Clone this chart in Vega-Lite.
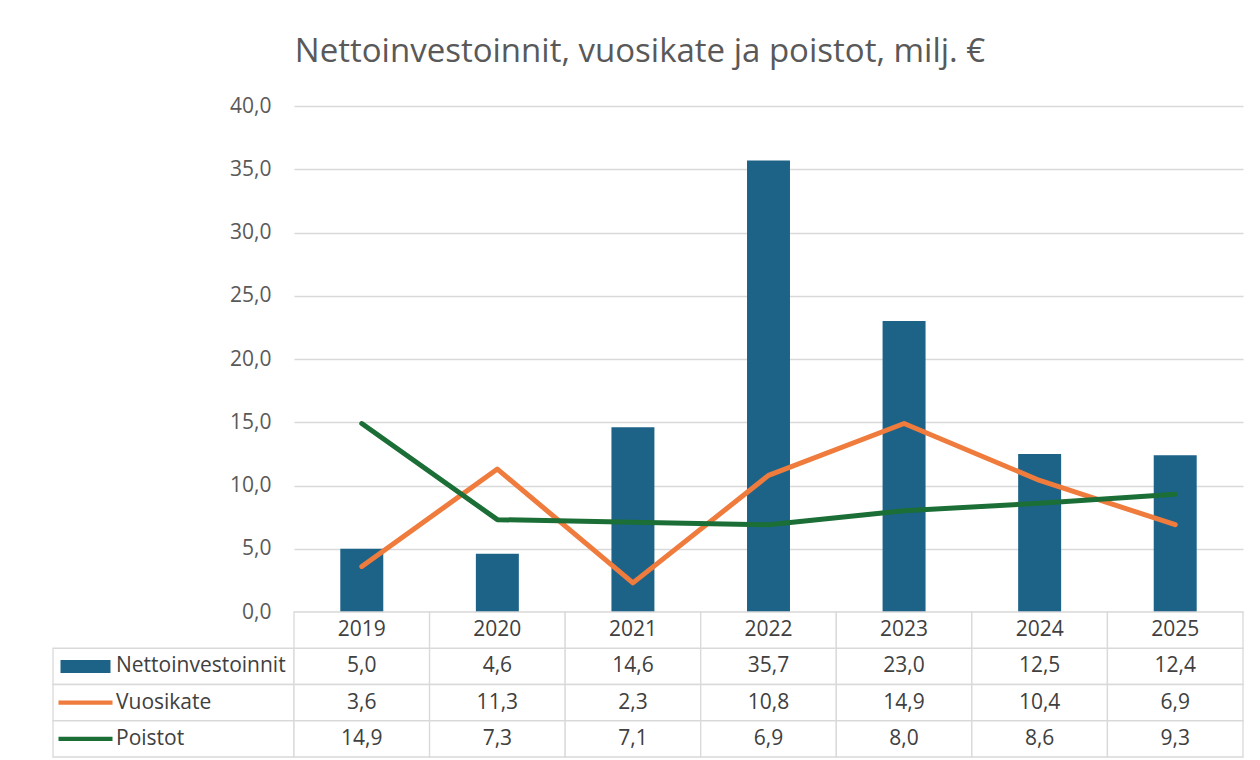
{
  "$schema": "https://vega.github.io/schema/vega-lite/v6.json",
  "background": "white",
  "padding": {"left": 52, "top": 36, "right": 5, "bottom": 5},
  "data": {
    "values": [
      {"year": 2019, "series": "Nettoinvestoinnit", "value": 5.0},
      {"year": 2020, "series": "Nettoinvestoinnit", "value": 4.6},
      {"year": 2021, "series": "Nettoinvestoinnit", "value": 14.6},
      {"year": 2022, "series": "Nettoinvestoinnit", "value": 35.7},
      {"year": 2023, "series": "Nettoinvestoinnit", "value": 23.0},
      {"year": 2024, "series": "Nettoinvestoinnit", "value": 12.5},
      {"year": 2025, "series": "Nettoinvestoinnit", "value": 12.4},
      {"year": 2019, "series": "Vuosikate", "value": 3.6},
      {"year": 2020, "series": "Vuosikate", "value": 11.3},
      {"year": 2021, "series": "Vuosikate", "value": 2.3},
      {"year": 2022, "series": "Vuosikate", "value": 10.8},
      {"year": 2023, "series": "Vuosikate", "value": 14.9},
      {"year": 2024, "series": "Vuosikate", "value": 10.4},
      {"year": 2025, "series": "Vuosikate", "value": 6.9},
      {"year": 2019, "series": "Poistot", "value": 14.9},
      {"year": 2020, "series": "Poistot", "value": 7.3},
      {"year": 2021, "series": "Poistot", "value": 7.1},
      {"year": 2022, "series": "Poistot", "value": 6.9},
      {"year": 2023, "series": "Poistot", "value": 8.0},
      {"year": 2024, "series": "Poistot", "value": 8.6},
      {"year": 2025, "series": "Poistot", "value": 9.3}
    ]
  },
  "title": {
    "text": "Nettoinvestoinnit, vuosikate ja poistot, milj. €",
    "font": "Open Sans",
    "fontSize": 33,
    "fontWeight": "normal",
    "color": "#595959",
    "anchor": "middle",
    "baseline": "alphabetic",
    "dx": -8,
    "offset": 0
  },
  "columns": 2,
  "align": "each",
  "bounds": "flush",
  "spacing": 0,
  "concat": [
    {
      "width": 241,
      "height": 506,
      "view": {"stroke": null},
      "data": {"values": []},
      "mark": "point"
    },
    {
      "width": 949,
      "height": 506,
      "view": {"stroke": null},
      "encoding": {
        "x": {
          "field": "year",
          "type": "ordinal",
          "scale": {"paddingInner": 0, "paddingOuter": 0},
          "axis": null
        }
      },
      "layer": [
        {
          "transform": [{"filter": "datum.series === 'Nettoinvestoinnit'"}],
          "mark": {"type": "bar", "width": {"band": 0.317}, "color": "#1d6388"},
          "encoding": {
            "y": {
              "field": "value",
              "type": "quantitative",
              "scale": {"domain": [0, 40], "nice": false},
              "axis": {
                "values": [0, 5, 10, 15, 20, 25, 30, 35, 40],
                "format": ".1f",
                "title": null,
                "domain": false,
                "ticks": false,
                "grid": true,
                "gridColor": "#d9d9d9",
                "gridWidth": 1.3,
                "labelPadding": 23,
                "labelFont": "Open Sans",
                "labelFontSize": 21,
                "labelColor": "#595959"
              }
            }
          }
        },
        {
          "transform": [{"filter": "datum.series !== 'Nettoinvestoinnit'"}],
          "mark": {"type": "line", "strokeWidth": 5, "strokeCap": "round", "strokeJoin": "round"},
          "encoding": {
            "y": {"field": "value", "type": "quantitative"},
            "color": {
              "field": "series",
              "type": "nominal",
              "scale": {
                "domain": ["Nettoinvestoinnit", "Vuosikate", "Poistot"],
                "range": ["#1d6388", "#ef7b3c", "#1b6e36"]
              },
              "legend": null
            }
          }
        }
      ]
    },
    {
      "width": 241,
      "height": 145,
      "view": {"stroke": null},
      "transform": [{"filter": "datum.year === 2019"}],
      "encoding": {
        "y": {
          "field": "series",
          "type": "nominal",
          "scale": {
            "domain": ["Vuosi", "Nettoinvestoinnit", "Vuosikate", "Poistot"],
            "paddingInner": 0,
            "paddingOuter": 0
          },
          "axis": null
        }
      },
      "layer": [
        {
          "mark": {"type": "rect", "fill": "white", "stroke": "#d9d9d9", "strokeWidth": 1.3}
        },
        {
          "mark": {"type": "point", "filled": true, "opacity": 1, "size": 2500, "xOffset": -88, "strokeWidth": 0},
          "encoding": {
            "color": {
              "field": "series",
              "type": "nominal",
              "scale": {
                "domain": ["Nettoinvestoinnit", "Vuosikate", "Poistot"],
                "range": ["#1d6388", "#ef7b3c", "#1b6e36"]
              },
              "legend": null
            },
            "shape": {
              "field": "series",
              "type": "nominal",
              "scale": {
                "domain": ["Nettoinvestoinnit", "Vuosikate", "Poistot"],
                "range": [
                  "M-1,-0.26H1V0.26H-1Z",
                  "M-1.08,-0.085H1.08V0.085H-1.08Z",
                  "M-1.08,-0.085H1.08V0.085H-1.08Z"
                ]
              },
              "legend": null
            }
          }
        },
        {
          "mark": {
            "type": "text",
            "align": "left",
            "dx": -57.5,
            "font": "Open Sans",
            "fontSize": 21,
            "color": "#404040"
          },
          "encoding": {"text": {"field": "series", "type": "nominal"}}
        }
      ]
    },
    {
      "width": 949,
      "height": 145,
      "view": {"stroke": null},
      "encoding": {
        "x": {
          "field": "year",
          "type": "ordinal",
          "scale": {"paddingInner": 0, "paddingOuter": 0},
          "axis": null
        },
        "y": {
          "field": "series",
          "type": "nominal",
          "scale": {
            "domain": ["Vuosi", "Nettoinvestoinnit", "Vuosikate", "Poistot"],
            "paddingInner": 0,
            "paddingOuter": 0
          },
          "axis": null
        }
      },
      "layer": [
        {
          "mark": {"type": "rect", "fill": "white", "stroke": "#d9d9d9", "strokeWidth": 1.3}
        },
        {
          "transform": [{"filter": "datum.series === 'Nettoinvestoinnit'"}],
          "mark": {"type": "rect", "fill": "white", "stroke": "#d9d9d9", "strokeWidth": 1.3},
          "encoding": {"y": {"datum": "Vuosi", "type": "nominal"}}
        },
        {
          "mark": {"type": "text", "font": "Open Sans", "fontSize": 21, "color": "#404040"},
          "encoding": {"text": {"field": "value", "type": "quantitative", "format": ".1f"}}
        },
        {
          "transform": [{"filter": "datum.series === 'Nettoinvestoinnit'"}],
          "mark": {"type": "text", "font": "Open Sans", "fontSize": 21, "color": "#404040"},
          "encoding": {
            "y": {"datum": "Vuosi", "type": "nominal"},
            "text": {"field": "year", "type": "ordinal"}
          }
        }
      ]
    }
  ],
  "config": {
    "font": "Open Sans",
    "locale": {
      "number": {
        "decimal": ",",
        "thousands": "\u00a0",
        "grouping": [3],
        "currency": ["", "\u00a0€"]
      }
    }
  }
}
